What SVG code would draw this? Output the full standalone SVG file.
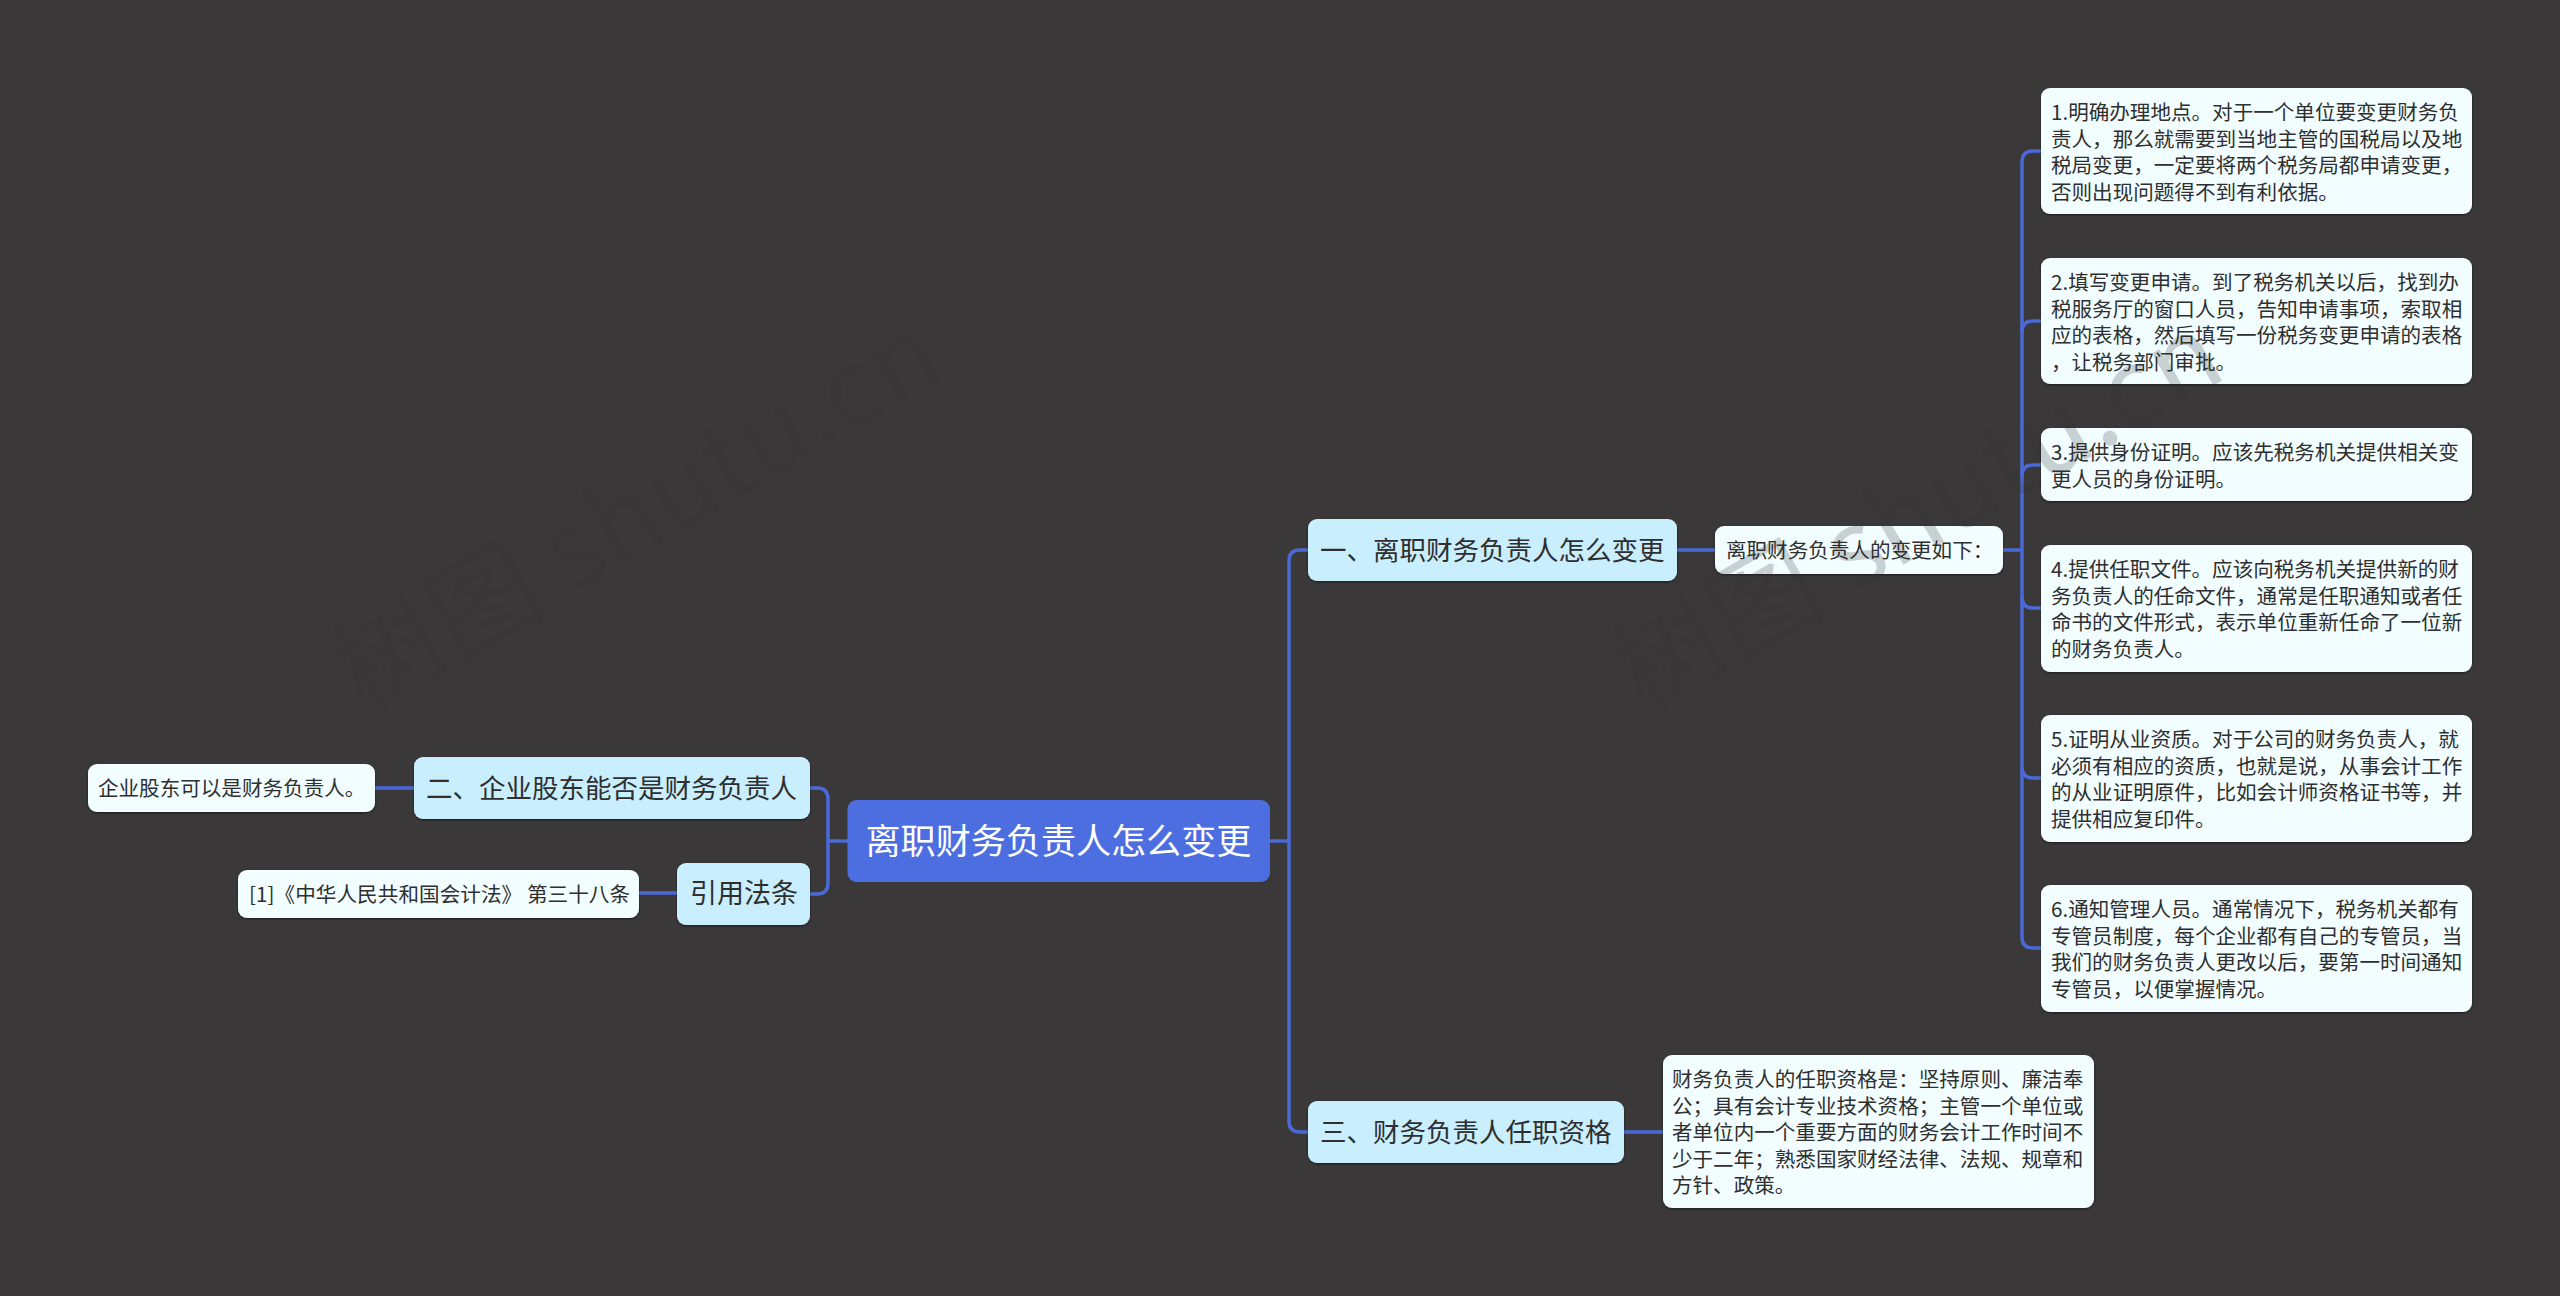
<svg xmlns="http://www.w3.org/2000/svg" width="2560" height="1296" viewBox="0 0 2560 1296">
<defs>
<filter id="sh" x="-5%" y="-10%" width="110%" height="125%"><feDropShadow dx="0" dy="1" stdDeviation="1" flood-color="#000" flood-opacity="0.55"/></filter>
</defs>
<style>
text{font-family:"Noto Sans CJK SC","Noto Sans",sans-serif;fill:#2f2f2f}
.c{fill:none;stroke:#4b69d6;stroke-width:3.500}
.leaf{fill:#f1fdff;filter:url(#sh)}
.l1{fill:#c9eefe;filter:url(#sh)}
.root{fill:#4d6ee0}
.s{font-size:20.570px}
.m{font-size:26.500px}
.r{font-size:35.100px;fill:#fff}
.wm{font-size:108px;fill:#343232;fill-opacity:.22}
</style>
<rect id="background" width="2560" height="1296" fill="#3a3838"/>
<g id="connectors">
<path class="c" d="M1270 841H1289M1308 550H1300Q1289 550 1289 561V1121Q1289 1132 1300 1132H1308"/>
<path class="c" d="M1677 550H1715"/>
<path class="c" d="M2003 550H2022"/>
<path class="c" d="M2041 151H2033Q2022 151 2022 162V937Q2022 948 2033 948H2041"/>
<path class="c" d="M2041 321H2033Q2022 321 2022 332M2041 465H2033Q2022 465 2022 476M2041 608H2033Q2022 608 2022 597M2041 778H2033Q2022 778 2022 767"/>
<path class="c" d="M1624 1132H1663"/>
<path class="c" d="M848 841H828M810 788H817Q828 788 828 799V883Q828 894 817 894H810"/>
<path class="c" d="M414 788H375"/>
<path class="c" d="M677 893H639"/>
</g>
<g id="root"><rect class="root" x="847.500" y="800" width="422.500" height="82" rx="9"/><text class="r" x="865.500" y="853.500">离职财务负责人怎么变更</text></g>
<g id="n1"><rect class="l1" x="1308" y="519" width="369" height="62" rx="9"/><text class="m" x="1320" y="560">一、离职财务负责人怎么变更</text></g>
<g id="n1-1"><rect class="leaf" x="1715" y="526" width="288" height="48" rx="9"/><text class="s" x="1726" y="558">离职财务负责人的变更如下：</text></g>
<g id="d1"><rect class="leaf" x="2041" y="88" width="431" height="126" rx="9"/>
<text class="s" x="2051" y="120">1.明确办理地点。对于一个单位要变更财务负</text>
<text class="s" x="2051" y="146.600">责人，那么就需要到当地主管的国税局以及地</text>
<text class="s" x="2051" y="173.200">税局变更，一定要将两个税务局都申请变更，</text>
<text class="s" x="2051" y="199.800">否则出现问题得不到有利依据。</text></g>
<g id="d2"><rect class="leaf" x="2041" y="258" width="431" height="126" rx="9"/>
<text class="s" x="2051" y="290">2.填写变更申请。到了税务机关以后，找到办</text>
<text class="s" x="2051" y="316.600">税服务厅的窗口人员，告知申请事项，索取相</text>
<text class="s" x="2051" y="343.200">应的表格，然后填写一份税务变更申请的表格</text>
<text class="s" x="2051" y="369.800">，让税务部门审批。</text></g>
<g id="d3"><rect class="leaf" x="2041" y="428" width="431" height="73" rx="9"/>
<text class="s" x="2051" y="460">3.提供身份证明。应该先税务机关提供相关变</text>
<text class="s" x="2051" y="486.600">更人员的身份证明。</text></g>
<g id="d4"><rect class="leaf" x="2041" y="545" width="431" height="127" rx="9"/>
<text class="s" x="2051" y="577">4.提供任职文件。应该向税务机关提供新的财</text>
<text class="s" x="2051" y="603.600">务负责人的任命文件，通常是任职通知或者任</text>
<text class="s" x="2051" y="630.200">命书的文件形式，表示单位重新任命了一位新</text>
<text class="s" x="2051" y="656.800">的财务负责人。</text></g>
<g id="d5"><rect class="leaf" x="2041" y="715" width="431" height="127" rx="9"/>
<text class="s" x="2051" y="747">5.证明从业资质。对于公司的财务负责人，就</text>
<text class="s" x="2051" y="773.600">必须有相应的资质，也就是说，从事会计工作</text>
<text class="s" x="2051" y="800.200">的从业证明原件，比如会计师资格证书等，并</text>
<text class="s" x="2051" y="826.800">提供相应复印件。</text></g>
<g id="d6"><rect class="leaf" x="2041" y="885" width="431" height="127" rx="9"/>
<text class="s" x="2051" y="917">6.通知管理人员。通常情况下，税务机关都有</text>
<text class="s" x="2051" y="943.600">专管员制度，每个企业都有自己的专管员，当</text>
<text class="s" x="2051" y="970.200">我们的财务负责人更改以后，要第一时间通知</text>
<text class="s" x="2051" y="996.800">专管员，以便掌握情况。</text></g>
<g id="n3"><rect class="l1" x="1308" y="1101" width="316" height="62" rx="9"/><text class="m" x="1320" y="1142">三、财务负责人任职资格</text></g>
<g id="n3-1"><rect class="leaf" x="1663" y="1055" width="431" height="153" rx="9"/>
<text class="s" x="1672" y="1087">财务负责人的任职资格是：坚持原则、廉洁奉</text>
<text class="s" x="1672" y="1113.600">公；具有会计专业技术资格；主管一个单位或</text>
<text class="s" x="1672" y="1140.200">者单位内一个重要方面的财务会计工作时间不</text>
<text class="s" x="1672" y="1166.800">少于二年；熟悉国家财经法律、法规、规章和</text>
<text class="s" x="1672" y="1193.400">方针、政策。</text></g>
<g id="n2"><rect class="l1" x="414" y="757" width="396" height="62" rx="9"/><text class="m" x="426" y="798">二、企业股东能否是财务负责人</text></g>
<g id="n2-1"><rect class="leaf" x="88" y="764" width="287" height="48" rx="9"/><text class="s" x="98" y="796">企业股东可以是财务负责人。</text></g>
<g id="n4"><rect class="l1" x="677" y="863" width="133" height="62" rx="9"/><text class="m" x="690" y="903" style="font-size:27px">引用法条</text></g>
<g id="n4-1"><rect class="leaf" x="238" y="870" width="401" height="48" rx="9"/><text class="s" x="249" y="902" textLength="381">[1]《中华人民共和国会计法》 第三十八条</text></g>
<g id="watermarks">
<text class="wm" transform="translate(363 715) rotate(-30)">树图 shutu.cn</text>
<text class="wm" transform="translate(1643 715) rotate(-30)">树图 shutu.cn</text>
</g>
</svg>
